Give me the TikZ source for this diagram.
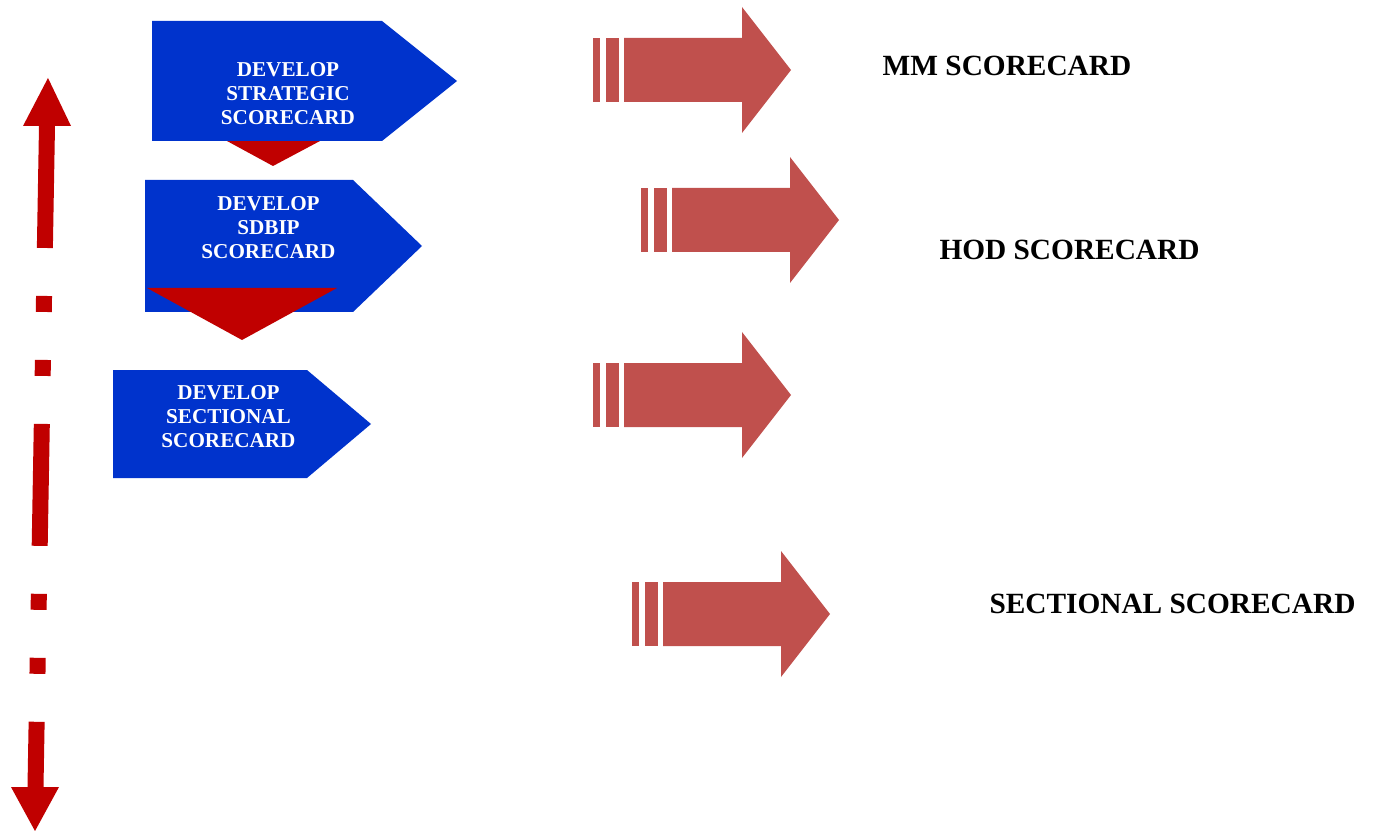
\documentclass[tikz,border=0pt]{standalone}
\usepackage{fontspec}
\setmainfont{Liberation Serif}
\definecolor{boxblue}{RGB}{0,51,204}
\definecolor{dropred}{RGB}{192,0,0}
\definecolor{flowred}{RGB}{192,80,77}
\tikzset{
  stagebox/.style={fill=boxblue},
  droptri/.style={fill=dropred},
  stagetext/.style={text=white,font=\fontsize{12.05}{13.66}\selectfont\bfseries,align=center,inner sep=0pt},
  cardtext/.style={text=black,font=\fontsize{16.7}{20}\selectfont\bfseries,inner sep=0pt},
  timeline/.style={draw=dropred,line width=0.32cm,
    dash pattern=on 2.44cm off 0.96cm on 0.32cm off 0.96cm on 0.32cm off 0.96cm},
  % striped block arrow, origin at the left end of the first stripe, centre height
  flowpic/.pic={
    \fill[flowred] (0,-32) rectangle (7,32);
    \fill[flowred] (13,-32) rectangle (26,32);
    \fill[flowred] (31,-32) -- (149,-32) -- (149,-63) -- (198,0) -- (149,63)
      -- (149,32) -- (31,32) -- cycle;
  },
}
\begin{document}
\begin{tikzpicture}[x=0.02cm,y=-0.02cm]
\useasboundingbox (0,0) rectangle (1373,831);

% stage 1: strategic scorecard
\fill[droptri] (227,141) -- (320,141) -- (273,166) -- cycle;
\fill[stagebox] (152,21) -- (382,21) -- (457,81) -- (382,141) -- (152,141) -- cycle;
\node[stagetext] (strategic) at (288,93.5) {DEVELOP\\STRATEGIC\\SCORECARD};

% stage 2: SDBIP scorecard
\fill[stagebox] (145,180) -- (353,180) -- (422,246) -- (353,312) -- (145,312) -- cycle;
\fill[droptri] (147,288) -- (337,288) -- (242,340) -- cycle;
\node[stagetext] (sdbip) at (268.5,227.5) {DEVELOP\\SDBIP\\SCORECARD};

% stage 3: sectional scorecard
\fill[stagebox] (113,370) -- (307,370) -- (371,424) -- (307,478) -- (113,478) -- cycle;
\node[stagetext] (sectional) at (228.5,417) {DEVELOP\\SECTIONAL\\SCORECARD};

% block arrows towards the resulting scorecards
\pic (flowa) at (593,70) {flowpic};
\pic (flowb) at (641,220) {flowpic};
\pic (flowc) at (593,395) {flowpic};
\pic (flowd) at (632,614) {flowpic};

% resulting scorecards
\node[cardtext] (mm) at (1007,66) {MM SCORECARD};
\node[cardtext] (hod) at (1069.5,250) {HOD SCORECARD};
\node[cardtext] (sect) at (1172.5,604) {SECTIONAL SCORECARD};

% two-way dashed timeline on the left
\coordinate (vtop) at (47,126);
\coordinate (vbot) at (35.5,787);
\draw[timeline] (vtop) -- (vbot);
\fill[dropred] (23,126) -- (71,126) -- (48,78) -- cycle;
\fill[dropred] (11,787) -- (59,787) -- (35,831) -- cycle;
\end{tikzpicture}
\end{document}
